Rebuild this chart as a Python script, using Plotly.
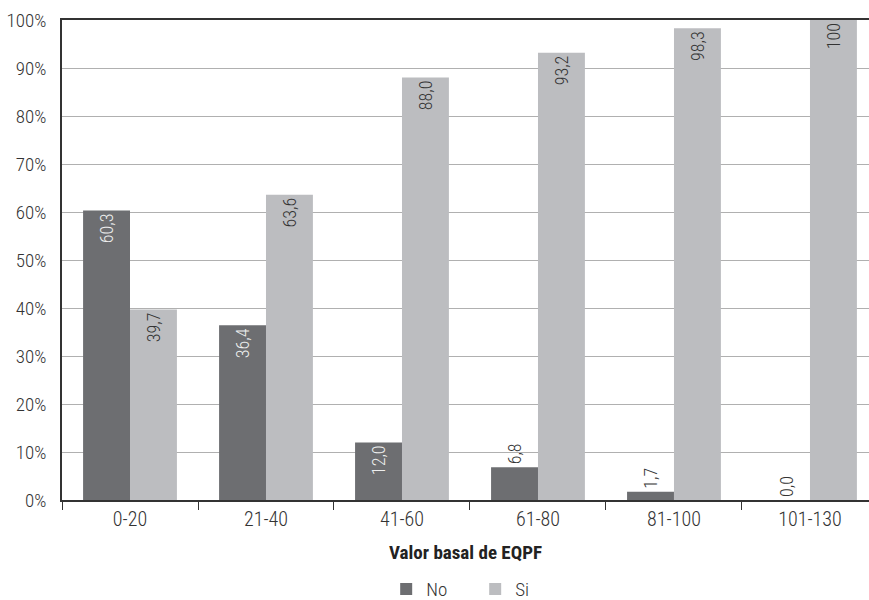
import plotly.graph_objects as go

categories = ["0-20", "21-40", "41-60", "61-80", "81-100", "101-130"]
no_values = [60.3, 36.4, 12.0, 6.8, 1.7, 0.0]
si_values = [39.7, 63.6, 88.0, 93.2, 98.3, 100]
series_names = ["No", "Si"]
y_ticks = [0, 10, 20, 30, 40, 50, 60, 70, 80, 90, 100]
y_tick_labels = [f"{t}%" for t in y_ticks]
x_title = "Valor basal de EQPF"

FONT = "Roboto Condensed, Liberation Sans Narrow, Arial Narrow, sans-serif"
DARK = "#6d6e71"
LIGHT = "#bcbdc0"
TXT = "#333333"


def fmt(v):
    if v >= 100:
        return "100"
    return f"{v:.1f}".replace(".", ",")


def positions(vals):
    return ["inside" if v >= 10 else "outside" for v in vals]


def f(size, color=TXT, weight=300):
    return dict(family=FONT, size=size, color=color, weight=weight)


fig = go.Figure()
fig.add_trace(go.Bar(
    x=categories, y=no_values, name=series_names[0],
    marker=dict(color=DARK, line=dict(width=0)),
    text=[fmt(v) for v in no_values], textposition=positions(no_values),
    textangle=-90, insidetextanchor="end",
    insidetextfont=f(18, "#eeeeee"),
    outsidetextfont=f(18),
    cliponaxis=False,
))
fig.add_trace(go.Bar(
    x=categories, y=si_values, name=series_names[1],
    marker=dict(color=LIGHT, line=dict(width=0)),
    text=[fmt(v) for v in si_values], textposition=positions(si_values),
    textangle=-90, insidetextanchor="end",
    insidetextfont=f(18),
    outsidetextfont=f(18),
    cliponaxis=False,
))

fig.update_layout(
    width=869, height=614,
    margin=dict(l=62, r=0, t=20, b=114),
    paper_bgcolor="white", plot_bgcolor="white",
    barmode="group", bargap=0.31, bargroupgap=0,
    font=f(19),
    showlegend=True,
    legend=dict(orientation="h", x=0.512, xanchor="center", y=-0.146, yanchor="top",
                font=f(19), entrywidth=44,
                bgcolor="rgba(0,0,0,0)"),
)
fig.update_xaxes(
    type="category", range=[-0.5, 5.434], automargin=False,
    showline=True, linecolor="#333333", linewidth=1.5, mirror=True,
    ticks="outside", tickson="boundaries", ticklen=8, tickcolor="#333333", tickwidth=1.2,
    showgrid=False,
    tickfont=f(20),
    title=dict(text=f"<b>{x_title}</b>", font=f(19, "#222222", 700), standoff=16),
)
fig.update_yaxes(
    range=[0, 100], tickvals=y_ticks, ticktext=y_tick_labels, automargin=False,
    showline=True, linecolor="#333333", linewidth=1.5,
    showgrid=True, gridcolor="#b0b0b0", gridwidth=1.2,
    ticks="", ticklabelstandoff=10, zeroline=False,
    tickfont=f(19),
)

fig.write_html(
    "out.html",
    config={"displayModeBar": False},
    post_script="document.body.style.margin='0';document.body.style.overflow='hidden';",
)
